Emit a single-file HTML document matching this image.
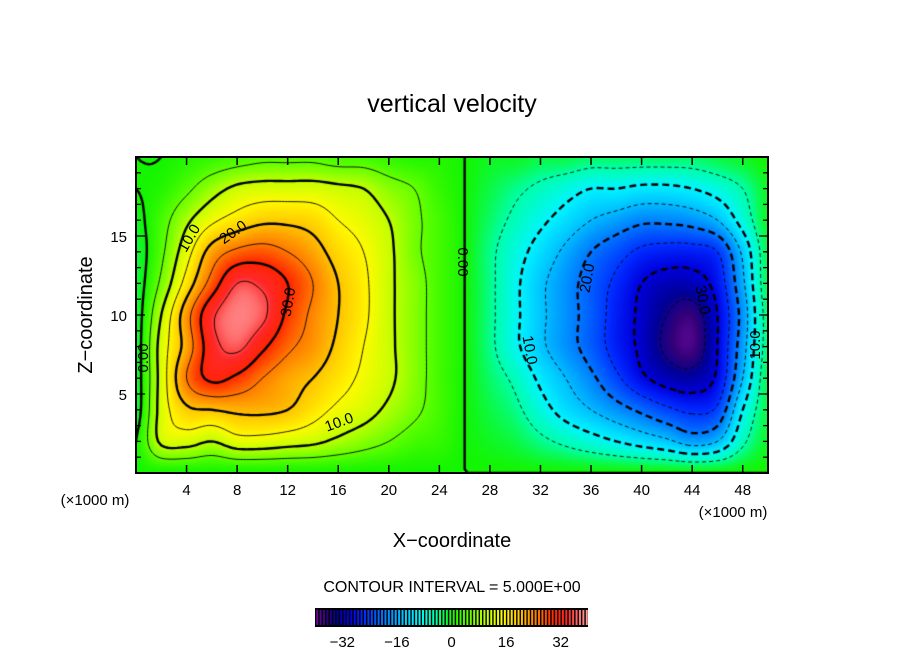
<!DOCTYPE html>
<html><head><meta charset="utf-8"><style>
html,body{margin:0;padding:0;background:#fff;}
#wrap{position:relative;width:904px;height:654px;overflow:hidden;font-family:"Liberation Sans",sans-serif;}
canvas{position:absolute;left:0;top:0;}
svg{position:absolute;left:0;top:0;}
</style></head><body>
<div id="wrap">
<canvas id="cv" width="904" height="654"></canvas>
<svg id="sv" width="904" height="654">
<text x="452" y="112" font-size="25" text-anchor="middle" font-family="Liberation Sans, sans-serif">vertical velocity</text>
<text x="452" y="547" font-size="20" text-anchor="middle" font-family="Liberation Sans, sans-serif">X−coordinate</text>
<text x="0" y="0" font-size="20" text-anchor="middle" transform="translate(92,315) rotate(-90)" font-family="Liberation Sans, sans-serif">Z−coordinate</text>
<text x="95" y="505" font-size="15" text-anchor="middle" font-family="Liberation Sans, sans-serif">(×1000 m)</text>
<text x="733" y="517" font-size="15" text-anchor="middle" font-family="Liberation Sans, sans-serif">(×1000 m)</text>
<text x="452" y="592" font-size="16" text-anchor="middle" font-family="Liberation Sans, sans-serif">CONTOUR INTERVAL = 5.000E+00</text>
<g id="ticks"></g>
<g id="cbar"></g>
<g id="clabels" font-size="15" font-family="Liberation Sans, sans-serif"></g>
<rect x="136" y="157" width="632" height="316" fill="none" stroke="#000" stroke-width="2"/>
</svg>
</div>
<script>
// grid coordinates (km)
const xGrid = [0,2,4,6,8,10,12,14,16,18,20,22,24,26,28,30,32,34,36,38,40,42,44,46,48,50];
const zGrid = [0,2,4,6,8,10,12,14,16,18,20];
// vertical velocity values, rows by z (z=0 first)
const w_z0  = [0,0,0,0,0,0,0,0,0,0,0,0,0,0,0,0,0,0,0,0,0,0,0,0,0,0];
const w_z2  = [0,11,12,10,13,13,12,11,9,7,5,3,2,0,-1,-2,-4,-6,-8,-10,-12,-14,-17,-15,-6,-1];
const w_z4  = [-2,12,19,20,21,21,20,17,14,12,9,6,3,0,-2,-4,-8,-12,-15,-18,-21,-24,-26,-24,-10,-2];
const w_z6  = [-2,12,25,31,29,25,22,20,17,14,11,7,3,0,-3,-6,-11,-15,-19,-24,-29,-32,-33,-29,-15,-2];
const w_z8  = [-2,12,22,33,36,31,26,23,19,15,11,7,3,0,-4,-9,-14,-18,-22,-27,-31,-36,-38,-30,-17,-3];
const w_z10 = [-2,10,23,34,38,36,29,24,20,16,11,7,3,0,-4,-9,-14,-18,-22,-27,-31,-35,-37,-30,-18,-3];
const w_z12 = [-2,6,17,27,35,34,30,25,20,16,11,7,3,0,-4,-9,-14,-18,-22,-26,-30,-32,-32,-28,-16,-2];
const w_z14 = [-2,4,13,22,26,27,25,22,18,15,11,6,3,0,-4,-8,-12,-16,-20,-23,-26,-27,-27,-25,-14,-2];
const w_z16 = [-1,3,9,14,17,19,19,18,15,13,10,6,3,0,-3,-6,-9,-12,-15,-17,-19,-19,-18,-15,-8,-1];
const w_z18 = [0,1,4,8,11,12,12,12,11,10,7,5,2,0,-2,-4,-6,-8,-10,-10,-11,-11,-10,-8,-5,-1];
const w_z20 = [0,0,1,2,3,4,4,4,3,3,2,1,1,0,-1,-1,-2,-2,-3,-3,-3,-3,-3,-2,-1,0];
const contourLevels = [-35,-30,-25,-20,-15,-10,-5,0,5,10,15,20,25,30,35];
const xTickLabels = [4,8,12,16,20,24,28,32,36,40,44,48];
const zTickLabels = [5,10,15];
const cbarTickLabels = [-32,-16,0,16,32];

const W = [w_z0,w_z2,w_z4,w_z6,w_z8,w_z10,w_z12,w_z14,w_z16,w_z18,w_z20];
const PL=136, PT=157, PW=632, PH=316, XMAX=50, ZMAX=20;
const sx = x => PL + x/XMAX*PW;
const sz = z => PT + PH - z/ZMAX*PH;

function g(i,j){ i=Math.max(0,Math.min(xGrid.length-1,i)); j=Math.max(0,Math.min(zGrid.length-1,j)); return W[j][i]; }
function cr(p0,p1,p2,p3,t){ return p1+0.5*t*(p2-p0+t*(2*p0-5*p1+4*p2-p3+t*(3*(p1-p2)+p3-p0))); }
function field(x,z){
  const dx = (xGrid[xGrid.length-1]-xGrid[0])/(xGrid.length-1);
  const dz = (zGrid[zGrid.length-1]-zGrid[0])/(zGrid.length-1);
  let gx=(x-xGrid[0])/dx, gz=(z-zGrid[0])/dz;
  let i=Math.min(Math.floor(gx),xGrid.length-2), j=Math.min(Math.floor(gz),zGrid.length-2);
  let tx=gx-i, tz=gz-j;
  const r=[];
  for(let k=-1;k<=2;k++) r.push(cr(g(i-1,j+k),g(i,j+k),g(i+1,j+k),g(i+2,j+k),tx));
  return cr(r[0],r[1],r[2],r[3],tz);
}
const stops=[[-40,[110,10,160]],[-37,[50,0,120]],[-34,[0,0,150]],[-30,[0,0,220]],[-26,[0,40,255]],[-20,[0,120,255]],[-14,[0,200,255]],[-10,[0,245,255]],[-5,[0,255,170]],[0,[20,245,0]],[5,[100,255,0]],[10,[190,255,0]],[15,[255,250,0]],[20,[255,195,0]],[25,[255,120,0]],[30,[255,35,0]],[34,[255,40,40]],[37,[255,110,110]],[40,[255,160,160]]];
function color(v){
  if(v<=stops[0][0]) return stops[0][1];
  for(let k=1;k<stops.length;k++){ if(v<=stops[k][0]){ const a=stops[k-1],b=stops[k],t=(v-a[0])/(b[0]-a[0]); return [0,1,2].map(c=>Math.round(a[1][c]+(b[1][c]-a[1][c])*t)); } }
  return stops[stops.length-1][1];
}
const cv=document.getElementById('cv'), ctx=cv.getContext('2d');
const img=ctx.createImageData(PW,PH);
for(let py=0;py<PH;py++){ const z=(PH-py-0.5)/PH*ZMAX; for(let px=0;px<PW;px++){ const x=(px+0.5)/PW*XMAX; const c=color(field(x,z)); const o=(py*PW+px)*4; img.data[o]=c[0];img.data[o+1]=c[1];img.data[o+2]=c[2];img.data[o+3]=255; } }
ctx.putImageData(img,PL,PT);

// contours via marching squares + chaining
const step=0.25, NX=Math.round(XMAX/step)+1, NZ=Math.round(ZMAX/step)+1;
const F=[]; for(let j=0;j<NZ;j++){ const row=[]; for(let i=0;i<NX;i++) row.push(field(i*step,j*step)); F.push(row); }
function contour(L){
  const pts={}, adj={};
  function edge(key,x1,z1,v1,x2,z2,v2){ if(!(key in pts)){ const t=(L-v1)/(v2-v1); pts[key]=[x1+(x2-x1)*t,z1+(z2-z1)*t]; } return key; }
  function link(a,b){ (adj[a]=adj[a]||[]).push(b); (adj[b]=adj[b]||[]).push(a); }
  for(let j=0;j<NZ-1;j++) for(let i=0;i<NX-1;i++){
    const a=F[j][i],b=F[j][i+1],c=F[j+1][i+1],d=F[j+1][i];
    const e=[];
    if((a>=L)!=(b>=L)) e.push(edge('h'+i+','+j,i,j,a,i+1,j,b));
    if((b>=L)!=(c>=L)) e.push(edge('v'+(i+1)+','+j,i+1,j,b,i+1,j+1,c));
    if((d>=L)!=(c>=L)) e.push(edge('h'+i+','+(j+1),i,j+1,d,i+1,j+1,c));
    if((a>=L)!=(d>=L)) e.push(edge('v'+i+','+j,i,j,a,i,j+1,d));
    if(e.length==2) link(e[0],e[1]);
    else if(e.length==4){ link(e[0],e[3]); link(e[1],e[2]); }
  }
  const used={}, lines=[];
  const keys=Object.keys(adj);
  const order=keys.filter(k=>adj[k].length==1).concat(keys);
  for(const s of order){ if(used[s]) continue; const line=[s]; used[s]=1; let cur=s;
    while(true){ const nx=(adj[cur]||[]).find(k=>!used[k]); if(!nx) break; used[nx]=1; line.push(nx); cur=nx; }
    if(adj[cur] && adj[cur].includes(s) && line.length>2) line.push(s);
    lines.push(line.map(k=>[sx(pts[k][0]*step),sz(pts[k][1]*step)])); }
  return lines;
}
ctx.save(); ctx.beginPath(); ctx.rect(PL,PT,PW,PH); ctx.clip();
ctx.strokeStyle='#000'; ctx.lineJoin='round';
contourLevels.forEach(L=>{
  const thick = (L%10===0);
  ctx.lineWidth = thick?2.4:0.9;
  ctx.setLineDash(L<0 ? (thick?[7,4]:[4,3]) : []);
  contour(L).forEach(line=>{ if(line.length<2) return; ctx.beginPath(); ctx.moveTo(line[0][0],line[0][1]); for(let k=1;k<line.length;k++) ctx.lineTo(line[k][0],line[k][1]); ctx.stroke(); });
});
ctx.restore();

const NS='http://www.w3.org/2000/svg';
function mk(tag,attrs,parent){ const el=document.createElementNS(NS,tag); for(const k in attrs) el.setAttribute(k,attrs[k]); parent.appendChild(el); return el; }
const tg=document.getElementById('ticks');
xTickLabels.forEach(v=>{
  const x=sx(v);
  const t1=mk('line',{x1:x,y1:PT+PH,x2:x,y2:PT+PH-8,stroke:'#000','stroke-width':1.5},tg);
   
  const t2=mk('line',{x1:x,y1:PT,x2:x,y2:PT+8,stroke:'#000','stroke-width':1.5},tg);
   
  const tx=mk('text',{x:x,y:495,'font-size':15,'text-anchor':'middle','font-family':'Liberation Sans, sans-serif'},tg);
  tx.textContent=v;
   
});
for(let z=1;z<ZMAX;z++){
  const y=sz(z), len=(z%5===0)?9:5;
  const a=mk('line',{x1:PL,y1:y,x2:PL+len,y2:y,stroke:'#000','stroke-width':1.3},tg);
   
  const b=mk('line',{x1:PL+PW,y1:y,x2:PL+PW-len,y2:y,stroke:'#000','stroke-width':1.3},tg);
   
}
zTickLabels.forEach(v=>{
  const tx=mk('text',{x:127,y:sz(v)+6,'font-size':15,'text-anchor':'end','font-family':'Liberation Sans, sans-serif'},tg);
  tx.textContent=v;
   
});
// colorbar
const cb=document.getElementById('cbar');
const CB0=315, CBW=273, CBT=608, CBH=19, VMIN=-40, VMAX=40;
const cbx=v=>CB0+(v-VMIN)/(VMAX-VMIN)*CBW;
const bg=mk('rect',{x:CB0,y:CBT,width:CBW,height:CBH,fill:'#000'},cb);
 
for(let v=VMIN;v<VMAX;v++){
  const c=color(v+0.5);
  const r=mk('rect',{x:cbx(v)+1.2,y:CBT+2,width:2,height:CBH-4,fill:'rgb('+c.join(',')+')'},cb);
   
}
cbarTickLabels.forEach(v=>{
  const tx=mk('text',{x:cbx(v),y:647,'font-size':15,'text-anchor':'middle','font-family':'Liberation Sans, sans-serif'},cb);
  tx.textContent=(v<0?'−'+(-v):v);
   
});
// contour labels
const cl=document.getElementById('clabels');
[['10.0',189,238,-60],['20.0',233,232,-35],['30.0',288,302,-80],['10.0',339,422,-20],['0.00',143,358,-90],
 ['0.00',463,262,90],['20.0',587,278,-80],['30.0',703,300,80],['10.0',530,350,80],['10.0',755,345,-90]].forEach(l=>{
  const tx=mk('text',{x:0,y:5,'text-anchor':'middle',transform:'translate('+l[1]+','+l[2]+') rotate('+l[3]+')'},cl);
  tx.textContent=l[0];
   
});
</script>
</body></html>
